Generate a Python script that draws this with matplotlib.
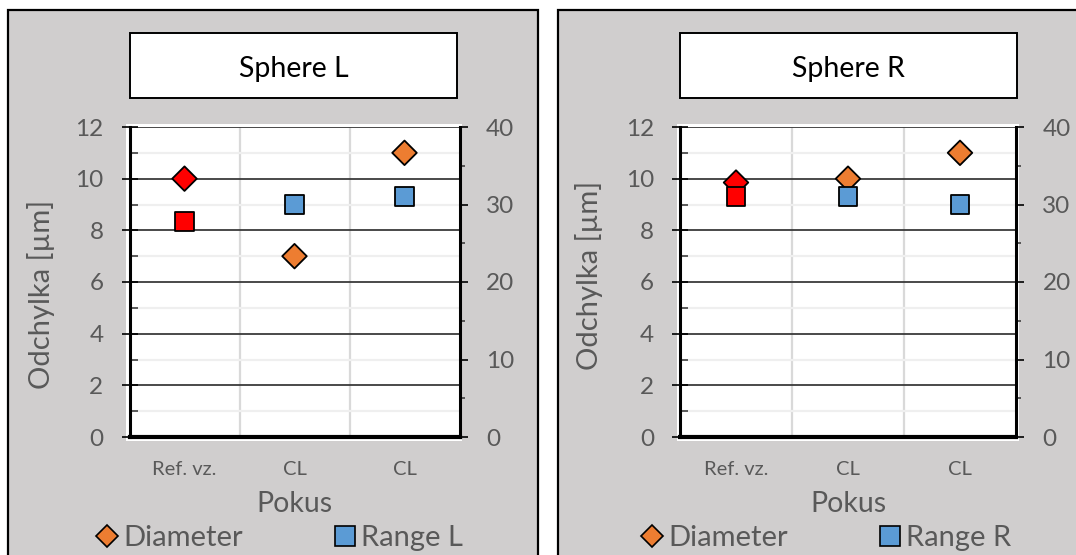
import matplotlib
matplotlib.use("Agg")
import matplotlib.pyplot as plt
from matplotlib.patches import Rectangle
from matplotlib.lines import Line2D
from matplotlib.ticker import MultipleLocator, FixedLocator

plt.rcParams['font.family'] = ['Lato', 'DejaVu Sans']

# ---- data ----
categories = ["Ref. vz.", "CL", "CL"]
panel_titles = ["Sphere L", "Sphere R"]
range_names = ["Range L", "Range R"]
diameter_L = [10.0, 7.0, 11.0]
range_L = [27.8, 30.0, 31.0]
diameter_R = [9.85, 10.0, 11.0]
range_R = [31.0, 31.0, 30.0]
y_left_max, y_right_max = 12, 40

ORANGE = "#ED7D31"
BLUE = "#5B9BD5"
RED = "#FF0000"
GRAY_BG = "#D0CECE"
TXT = "#595959"

W, H = 1076, 555
fig = plt.figure(figsize=(W / 100, H / 100), dpi=100)
fig.patch.set_facecolor("white")


def fx(x):
    return x / W


def fy(y):
    return 1 - y / H


def box(x0, y0, x1, y1, **kw):
    r = Rectangle((fx(x0), fy(y1)), fx(x1) - fx(x0), fy(y0) - fy(y1),
                  transform=fig.transFigure, **kw)
    fig.patches.append(r)
    return r


panels = [
    dict(bg=(8, 10, 537.5, 600), title_box=(130, 33, 457, 98),
         ax=(129.5, 127, 459.5, 437), white=(126, 124, 462, 441),
         diam=diameter_L, rng=range_L, title=panel_titles[0],
         rname=range_names[0], ylab=(-0.226, 0.46), leg_x=279),
    dict(bg=(557.5, 10, 1100, 600), title_box=(679.5, 33, 1016.5, 98),
         ax=(680, 127, 1016, 437), white=(677, 124, 1019, 441),
         diam=diameter_R, rng=range_R, title=panel_titles[1],
         rname=range_names[1], ylab=(-0.229, 0.521), leg_x=826),
]

xpos = list(range(len(categories)))

for p in panels:
    box(*p["bg"], facecolor=GRAY_BG, edgecolor="black", linewidth=1.6, zorder=0)
    box(*p["white"], facecolor="white", edgecolor="none", zorder=0.5)
    tb = p["title_box"]
    box(*tb, facecolor="white", edgecolor="black", linewidth=1.4, zorder=1)
    fig.text(fx((tb[0] + tb[2]) / 2), fy(77), p["title"],
             ha="center", va="baseline", fontsize=20.5, color="black")

    x0, y0, x1, y1 = p["ax"]
    ax = fig.add_axes([fx(x0), fy(y1), fx(x1) - fx(x0), fy(y0) - fy(y1)])
    ax.set_zorder(2)
    ax.set_facecolor("white")
    ax.set_xlim(-0.5, 2.5)
    ax.set_ylim(0, y_left_max)
    ax.yaxis.set_major_locator(MultipleLocator(2))
    ax.yaxis.set_minor_locator(MultipleLocator(1))
    ax.set_xticks(xpos)
    ax.set_xticklabels(categories)
    ax.xaxis.set_minor_locator(FixedLocator([0.5, 1.5]))

    ax.grid(which="major", axis="y", color="#3a3a3a", linewidth=1.3)
    ax.grid(which="minor", axis="y", color="#efefef", linewidth=1.6)
    ax.grid(which="minor", axis="x", color="#d9d9d9", linewidth=1.6)
    ax.set_axisbelow(True)

    for s in ("top", "right"):
        ax.spines[s].set_visible(False)
    ax.spines["left"].set_linewidth(2.2)
    ax.spines["bottom"].set_linewidth(3.0)
    ax.spines["left"].set_zorder(3)
    ax.spines["bottom"].set_zorder(3)

    ax.tick_params(axis="y", which="major", direction="inout", length=11.5,
                   width=1.2, color="black", labelsize=17.5, labelcolor=TXT,
                   pad=13)
    ax.tick_params(axis="y", which="minor", direction="in", length=6,
                   width=1.2, color="#404040")
    ax.tick_params(axis="x", which="both", length=0, labelsize=14.5,
                   labelcolor=TXT, pad=17)

    ax.set_xlabel("Pokus", fontsize=20.5, color=TXT, labelpad=10)
    ax.set_ylabel("Odchylka [µm]", fontsize=21, color=TXT)
    ax.yaxis.set_label_coords(*p["ylab"])

    ax2 = ax.twinx()
    ax2.set_zorder(3)
    ax2.patch.set_visible(False)
    ax2.set_ylim(0, y_right_max)
    ax2.yaxis.set_major_locator(MultipleLocator(10))
    ax2.yaxis.set_minor_locator(MultipleLocator(5))
    for s in ("top", "left", "bottom"):
        ax2.spines[s].set_visible(False)
    ax2.spines["right"].set_linewidth(2.2)
    ax2.tick_params(axis="y", which="major", direction="out", length=6,
                    width=1.2, color="black", labelsize=17.5, labelcolor=TXT,
                    pad=13)
    ax2.tick_params(axis="y", which="minor", direction="out", length=3.8,
                    width=1.2, color="#404040")

    # Diameter on the left axis, range on the right axis; first point in red
    d_colors = [RED] + [ORANGE] * (len(p["diam"]) - 1)
    r_colors = [RED] + [BLUE] * (len(p["rng"]) - 1)
    ax.scatter(xpos, p["diam"], marker="D", s=12.5 ** 2, c=d_colors,
               edgecolors="black", linewidths=1.3, zorder=5, clip_on=False)
    ax2.scatter(xpos, p["rng"], marker="s", s=13.5 ** 2, c=r_colors,
                edgecolors="black", linewidths=1.3, zorder=5, clip_on=False)

    handles = [
        Line2D([], [], linestyle="none", marker="D", markersize=11,
               markerfacecolor=ORANGE, markeredgecolor="black",
               markeredgewidth=1.2, label="Diameter"),
        Line2D([], [], linestyle="none", marker="s", markersize=14,
               markerfacecolor=BLUE, markeredgecolor="black",
               markeredgewidth=1.2, label=p["rname"]),
    ]
    fig.legend(handles=handles, loc="center",
               bbox_to_anchor=(fx(p["leg_x"]), fy(538)), ncol=2,
               frameon=False, fontsize=21, labelcolor=TXT,
               handlelength=0.8, handletextpad=0.15, columnspacing=3.1,
               borderpad=0, borderaxespad=0)

fig.savefig("out.png", dpi=100, facecolor=fig.get_facecolor())
